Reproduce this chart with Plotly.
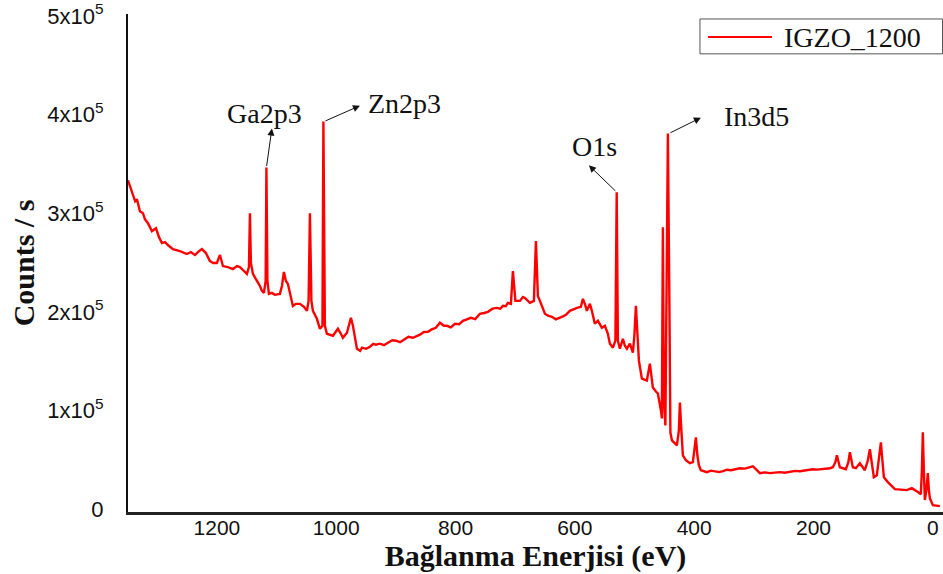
import plotly.graph_objects as go

# Binding energy (eV) and intensity (counts/s)
energy = [1349, 1346, 1342, 1337, 1334, 1329, 1324, 1320.6, 1315.6, 1308.9, 1302.2, 1297.1,
          1292.1, 1287, 1282.1, 1273.7, 1262, 1250.2, 1243.7, 1236.8, 1230, 1225.1, 1218.4,
          1211.7, 1206, 1200, 1194.9, 1189.9, 1181.5, 1173.1, 1166.4, 1161.4, 1154.7, 1149.7,
          1146.3, 1144.6, 1143, 1139.6, 1132.9, 1127.9, 1124.5, 1121.2, 1118.3, 1117, 1115.3,
          1112.8, 1107.8, 1102.7, 1094.4, 1091, 1087.7, 1084.3, 1081, 1077.6, 1072.6, 1067.6,
          1060.8, 1054.1, 1049.1, 1046.3, 1044.1, 1041.6, 1039.1, 1032.4, 1027.3, 1023.1,
          1021.5, 1019, 1015.6, 1005.5, 997.2, 992.2, 988.8, 982, 975.4, 972, 968.7, 965.3,
          960, 956.8, 950, 943.5, 938, 933.5, 926.8, 920, 913.4, 906, 900, 893, 886.6, 879,
          871.5, 865, 859.7, 853, 846.3, 840, 833, 826.2, 819.5,
          814.5, 808, 801, 794, 787.6, 781, 774.3, 767, 759.2, 752, 745.8, 738, 730.7, 725,
          720.6, 716, 712.3, 707.2, 703.9, 699.7,
          692.1, 687.1, 683.8, 675.4, 668.7, 665.3, 662, 658.6, 650.2, 645, 638.5, 632, 625.1,
          620, 615, 608.4,
          596.6, 589.9, 586.6, 583.2, 579.9, 574.8, 571.5, 566.5, 561.4, 554.7, 549.7, 544.7,
          541.3, 536.3, 532.1, 529.9, 527.9, 524.6, 519.5, 516.2, 512.8, 507.8, 502.8, 500.3,
          497.7, 495.2, 492.7, 487.7, 479.3, 474.3, 469.3, 464.2, 460.9, 455.8, 454.2, 452.5,
          450.8, 448.3, 446.3, 444.1, 441.6, 439.9, 437.4, 429, 425.7, 424, 421.5, 419, 414,
          407.2, 402.2, 399.7, 397.2, 394.7, 392.2, 388.8, 378.8, 372, 365.3, 358, 351.9, 345,
          338.5, 330, 323.4, 315,
          306.7, 301.7, 295, 289.9, 281, 273.2, 265, 256.4, 248, 239.7, 231, 222.9, 212, 201.1,
          194, 186, 179, 172.6, 167.6, 163.4,
          160.9, 158.4, 155.9, 145.8, 141.6, 139.1, 136.6, 134.1, 129, 122.3, 114, 108.9, 105.6,
          102.2, 98.9, 93.9, 89.7, 87.1, 84.6, 82.1, 75.4, 63.7, 43.6, 35.2, 25.1, 20.1, 18.4,
          16.8, 15.1, 13.4, 10.9, 8.4, 6.7, 5, 0, -11.7]

counts = [333300, 328300, 320200, 312100, 314100, 302000, 300000, 293900, 289900, 281800, 284800,
          275700, 269700, 270700, 267700, 263600, 261600, 258600, 260600, 257600, 261600, 263600,
          259600, 251500, 249500, 249500, 257600, 246400, 245400, 243400, 246400, 245400, 241400,
          238400, 245400, 300000, 249500, 238400, 231300, 226200, 221200, 219200, 231300, 346400,
          231300, 218200, 219200, 217200, 218200, 226200, 240400, 231300, 228300, 219200, 206000,
          208100, 208100, 205000, 201000, 211100, 300000, 211100, 201000, 192900, 182800, 185800,
          392900, 185800, 177800, 175700, 182800, 177800, 173700, 178800, 193900, 185800, 172700,
          162600, 160500, 163600, 162500, 164600, 167600, 166700, 167700, 166200, 168700, 171200,
          170700, 169200, 171700, 174700,
          173700, 175300, 176800, 179500, 179800, 182200, 183800, 188900, 185800,
          185800, 184300, 187900, 187400, 190900, 192400, 193900, 192600, 198000, 198800, 200000,
          203200, 204000, 203100,
          206000, 205600, 209100, 208100, 241400, 211100,
          211100, 215100, 214100, 209100, 211100, 271700, 216100, 211100, 198000, 196000, 194900,
          192400, 193900, 195400, 197000, 201000,
          204000, 205000, 213100, 208100, 201000,
          208100, 201000, 187900, 190900, 183800, 185800, 177800, 167700, 163600, 170700, 321200,
          170700, 162600, 172700, 165600, 162600, 167700, 158600, 175700, 206000, 175700, 150500,
          132300, 130300, 147500, 123200, 119200, 117200, 100000, 91900, 285800, 110100, 84800,
          211100, 380800, 211100, 77800, 69700, 64600, 79800, 108100, 79800, 54500, 49500, 46500,
          47500, 57600, 72700, 54500, 44400, 39400, 37400, 38900, 38400, 37500, 38400, 39900,
          39400, 40200, 41400, 41000,
          42400, 43400, 39400, 36400, 37200, 36400, 36900, 37400, 36800, 37400, 38700, 38400,
          39200, 40400, 40000, 40400, 41500, 41400, 42400, 47500,
          54500, 47500, 42400, 40400, 47500, 57600, 47500, 42400, 41400, 46500, 39400, 49500,
          60600, 44400, 32300, 34300, 54500, 67700, 49500, 32300, 27300, 20200, 19200, 21200,
          17200, 15100, 39400, 77800, 39400, 9100, 19200, 36400, 19200, 11100, 4000, 3000]

series_name = "IGZO_1200"

x_ticks = [1200, 1000, 800, 600, 400, 200, 0]
y_ticks = [0, 100000, 200000, 300000, 400000, 500000]
y_ticktext = ["0", "1x10<sup>5</sup>", "2x10<sup>5</sup>", "3x10<sup>5</sup>",
              "4x10<sup>5</sup>", "5x10<sup>5</sup>"]

# Peak labels: text position and arrow (tail at peak top, head near label)
peak_labels = ["Ga2p3", "Zn2p3", "O1s", "In3d5"]
label_e = [1119.5, 884.9, 566.5, 295]
label_c = [401000, 411000, 367600, 397900]
tail_e = [1117, 1020.6, 529.6, 442.4]
tail_c = [346400, 392900, 321200, 380800]
head_e = [1107.8, 960.3, 576.5, 388.8]
head_c = [385800, 409000, 348500, 396900]

line_color = "#ff0000"

fig = go.Figure()
fig.add_trace(go.Scatter(
    x=energy, y=counts, mode="lines", name=series_name, showlegend=False,
    line=dict(color=line_color, width=2.4),
))

annotations = []
for i in range(len(peak_labels)):
    annotations.append(dict(
        x=head_e[i], y=head_c[i], xref="x", yref="y",
        ax=tail_e[i], ay=tail_c[i], axref="x", ayref="y",
        text="", showarrow=True, arrowhead=2, arrowsize=1.4,
        arrowwidth=1, arrowcolor="#111111",
    ))
    annotations.append(dict(
        x=label_e[i], y=label_c[i], xref="x", yref="y",
        text=peak_labels[i], showarrow=False,
        font=dict(family="Liberation Serif", size=28, color="#111111"),
    ))

# legend drawn as a box with a line sample and the series name
annotations.append(dict(
    x=0.8025, y=0.953, xref="paper", yref="paper", xanchor="left", yanchor="middle",
    text=series_name, showarrow=False,
    font=dict(family="Liberation Serif", size=28, color="#111111"),
))
shapes = [
    dict(type="rect", xref="paper", yref="paper", x0=0.7018, x1=0.9994, y0=0.92, y1=0.99,
         line=dict(color="#555555", width=1), fillcolor="white", layer="above"),
    dict(type="line", xref="paper", yref="paper", x0=0.7117, x1=0.7902, y0=0.954, y1=0.954,
         line=dict(color=line_color, width=2), layer="above"),
]

fig.update_layout(
    width=943, height=574,
    margin=dict(l=128, r=0, t=12, b=62),
    paper_bgcolor="white", plot_bgcolor="white",
    showlegend=False,
    annotations=annotations,
    shapes=shapes,
)
fig.update_xaxes(
    range=[1349, -17], showline=True, linecolor="#222222", linewidth=2.5,
    showgrid=False, zeroline=False, ticks="",
    tickvals=x_ticks, ticktext=[str(v) for v in x_ticks],
    tickfont=dict(family="Liberation Sans", size=21, color="#111111"),
    ticklabelstandoff=-5, ticklabeloverflow="allow",
    title=dict(text="<b>Bağlanma Enerjisi (eV)</b>", standoff=6,
               font=dict(family="Liberation Serif", size=30, color="#111111")),
)
fig.update_yaxes(
    range=[-3000, 502000], showline=True, linecolor="#111111", linewidth=2,
    showgrid=False, zeroline=False, ticks="",
    tickvals=y_ticks, ticktext=y_ticktext,
    tickfont=dict(family="Liberation Sans", size=22, color="#111111"),
    ticklabelstandoff=18, ticklabeloverflow="allow",
    title=dict(text="<b>Counts / s</b>", standoff=4,
               font=dict(family="Liberation Serif", size=30, color="#111111")),
)

fig.write_html("out.html")
